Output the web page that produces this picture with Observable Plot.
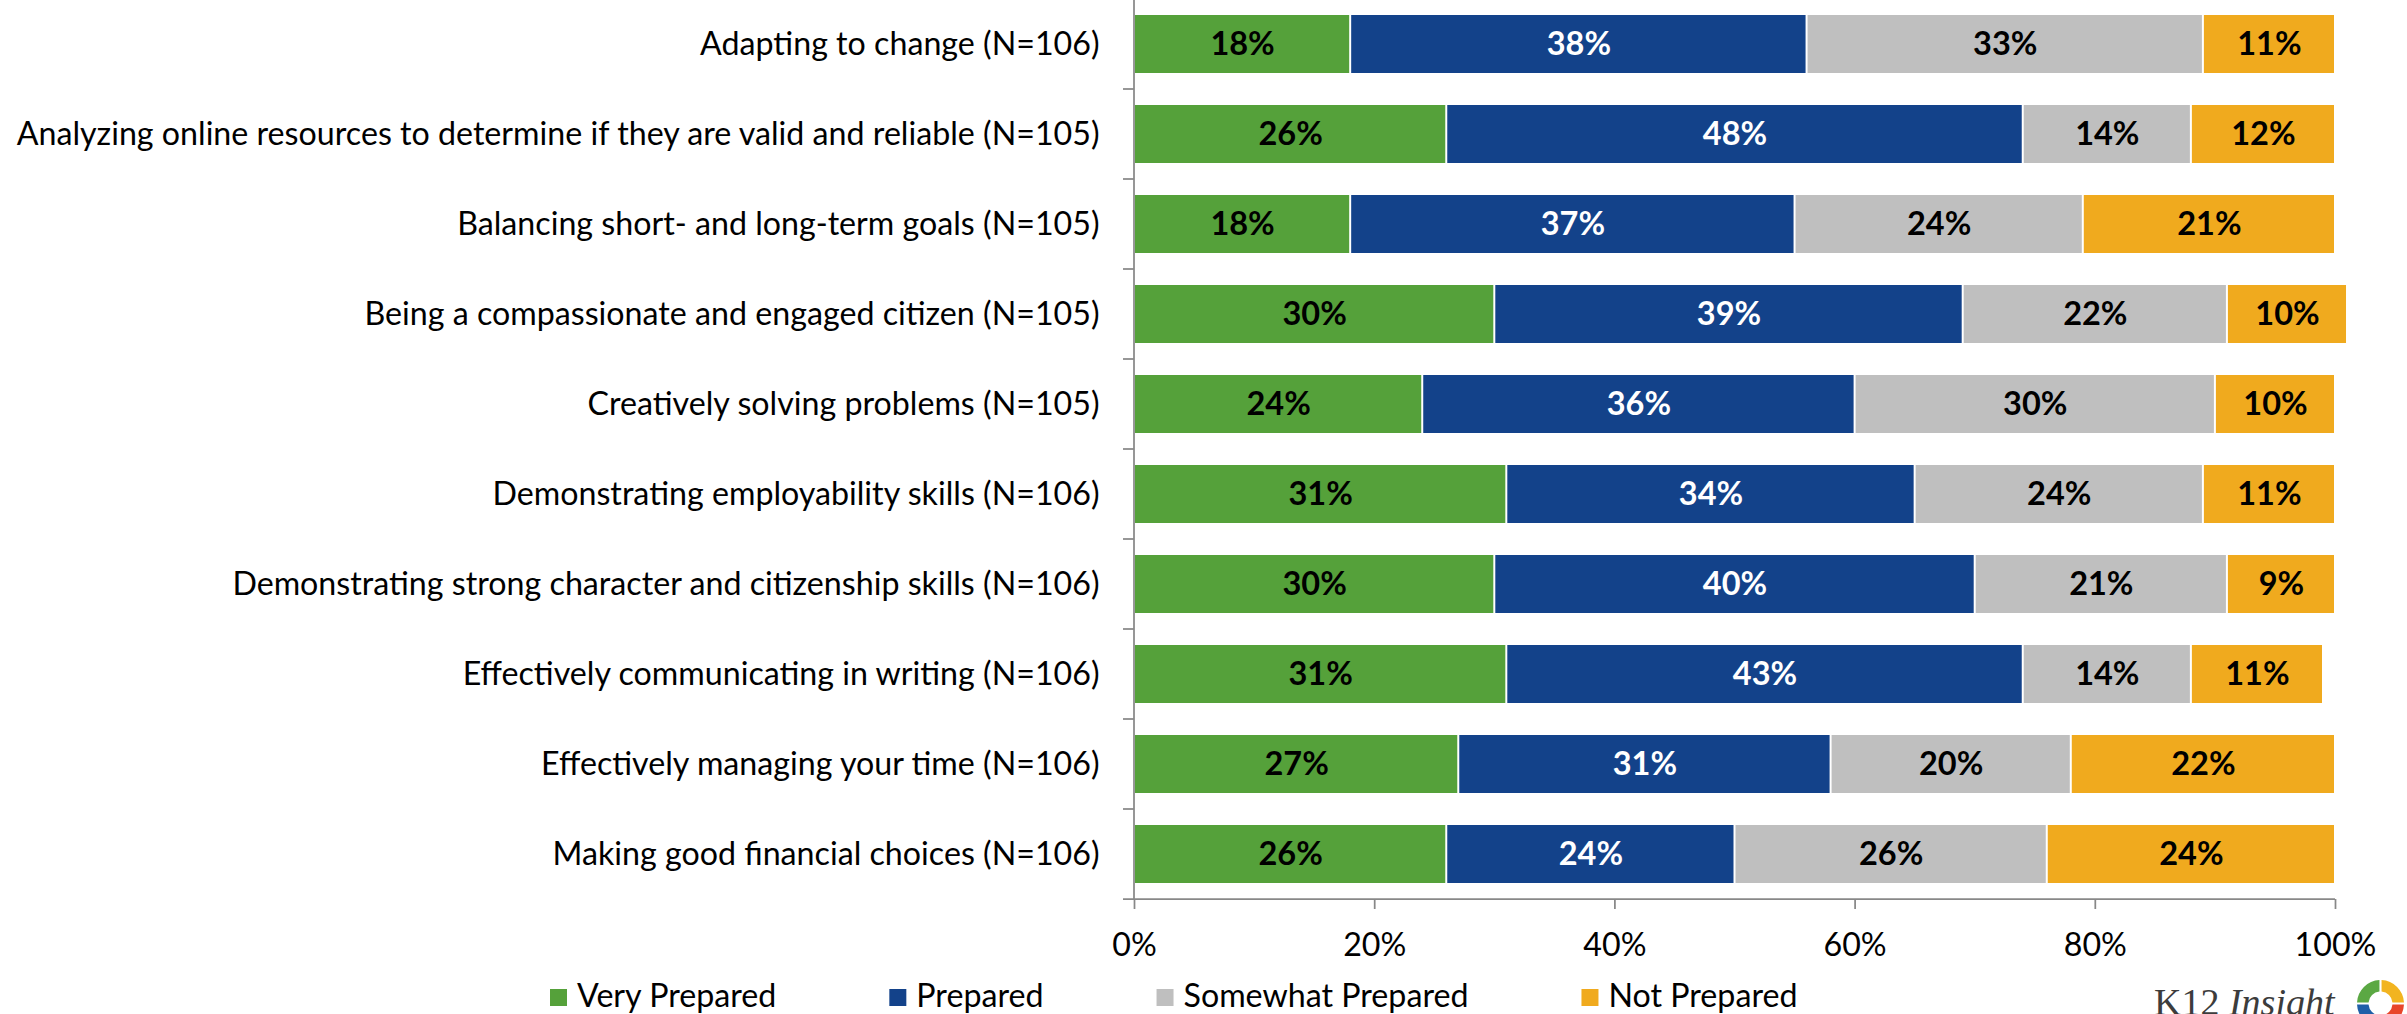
<!DOCTYPE html>
<html>
<head>
<meta charset="utf-8">
<script src="https://cdn.jsdelivr.net/npm/d3@7"></script>
<script src="https://cdn.jsdelivr.net/npm/@observablehq/plot@0.6"></script>
<style>
  html, body { margin: 0; padding: 0; background: #ffffff; }
  #wrap { position: relative; width: 2407px; height: 1014px; overflow: hidden; background: #ffffff; }
  #wrap > svg { position: absolute; left: 0; top: 0; }
</style>
</head>
<body>
<div id="wrap"></div>
<script>
// ---- data ----
const categories = [
  "Adapting to change (N=106)",
  "Analyzing online resources to determine if they are valid and reliable (N=105)",
  "Balancing short- and long-term goals (N=105)",
  "Being a compassionate and engaged citizen (N=105)",
  "Creatively solving problems (N=105)",
  "Demonstrating employability skills (N=106)",
  "Demonstrating strong character and citizenship skills (N=106)",
  "Effectively communicating in writing (N=106)",
  "Effectively managing your time (N=106)",
  "Making good financial choices (N=106)"
];
const series = ["Very Prepared", "Prepared", "Somewhat Prepared", "Not Prepared"];
const veryPrepared     = [18, 26, 18, 30, 24, 31, 30, 31, 27, 26];
const prepared         = [38, 48, 37, 39, 36, 34, 40, 43, 31, 24];
const somewhatPrepared = [33, 14, 24, 22, 30, 24, 21, 14, 20, 26];
const notPrepared      = [11, 12, 21, 10, 10, 11,  9, 11, 22, 24];
const xTicks = [0, 20, 40, 60, 80, 100];

// ---- styles ----
const seriesColors = ["#55A13A", "#13428A", "#BFBFBF", "#F0AA1E"];
const labelInk = ["#000000", "#ffffff", "#000000", "#000000"];
const axisColor = "#888888";
const font = "Lato, 'Open Sans', sans-serif";
const fs = 32.2;

const seriesValues = [veryPrepared, prepared, somewhatPrepared, notPrepared];
const data = series.flatMap((s, si) => categories.map((c, ci) => ({
  category: c, series: s, value: seriesValues[si][ci], color: seriesColors[si], ink: labelInk[si]
})));

function axisLines(index, scales) {
  const {x, y} = scales;
  const gap = (y.step() - y.bandwidth()) / 2;
  const [y0, y1] = y.range();
  const x0 = x(0);
  const g = d3.create("svg:g")
    .attr("stroke", axisColor).attr("stroke-width", 1.75).attr("fill", "none");
  g.append("line").attr("x1", x0).attr("x2", x0).attr("y1", y0).attr("y2", y1);
  categories.slice(1).forEach(c => {
    const b = y(c) - gap;
    g.append("line").attr("x1", x0 - 11).attr("x2", x0).attr("y1", b).attr("y2", b);
  });
  g.append("line").attr("x1", x0 - 11).attr("x2", x(100)).attr("y1", y1).attr("y2", y1);
  return g.node();
}

const chart = Plot.plot({
  width: 2407,
  height: 1014,
  marginLeft: 1134,
  marginRight: 72,
  marginTop: 0,
  marginBottom: 115,
  style: {fontFamily: font, fontSize: fs + "px", color: "#000", background: "#fff"},
  x: {domain: [0, 100]},
  y: {domain: categories, range: [-2, 899], paddingInner: 0.356, paddingOuter: 0.178},
  color: {type: "identity"},
  marks: [
    Plot.barX(data, Plot.stackX({
      x: "value", y: "category", z: "series", fill: "color", insetLeft: 1, insetRight: 1
    })),
    Plot.text(data, Plot.stackX({
      x: "value", y: "category", z: "series",
      text: d => d.value + "%", fill: "ink",
      fontWeight: "bold", fontSize: 32.5
    })),
    Plot.axisY({tickSize: 0, tickPadding: 35, fontSize: fs, fill: "#000", label: null}),
    Plot.axisX({
      ticks: xTicks, tickFormat: d => d + "%", tickSize: 10, tickPadding: 24,
      stroke: axisColor, strokeWidth: 1.75, fill: "#000", fontSize: fs, label: null
    }),
    axisLines
  ]
});

const wrap = document.getElementById("wrap");
wrap.appendChild(chart);

// ---- legend & logo overlay ----
const over = d3.select(wrap).append("svg")
  .attr("width", 2407).attr("height", 1014)
  .style("font-family", font);

let lx = 550;
series.forEach((s, i) => {
  over.append("rect").attr("x", lx).attr("y", 989).attr("width", 17).attr("height", 17)
    .attr("fill", seriesColors[i]);
  const t = over.append("text").attr("x", lx + 27).attr("y", 1007)
    .attr("font-size", fs).attr("fill", "#000").text(s);
  lx += 27 + t.node().getComputedTextLength() + 113;
});

// logo
const logo = over.append("text").attr("x", 2154).attr("y", 1015)
  .attr("font-family", "'Liberation Serif', 'DejaVu Serif', serif")
  .attr("font-size", 38).attr("fill", "#3c3c3c");
logo.append("tspan").text("K12 ");
logo.append("tspan").attr("font-style", "italic").text("Insight");

const ringColors = ["#F2B420", "#E8462A", "#1F5FA8", "#5BA843"];
const arc = d3.arc().innerRadius(12).outerRadius(23.5).padAngle(0.08);
const ring = over.append("g").attr("transform", "translate(2380.5,1003.5)");
ringColors.forEach((c, i) => {
  ring.append("path")
    .attr("d", arc({startAngle: i * Math.PI / 2, endAngle: (i + 1) * Math.PI / 2}))
    .attr("fill", c);
});
</script>
</body>
</html>
